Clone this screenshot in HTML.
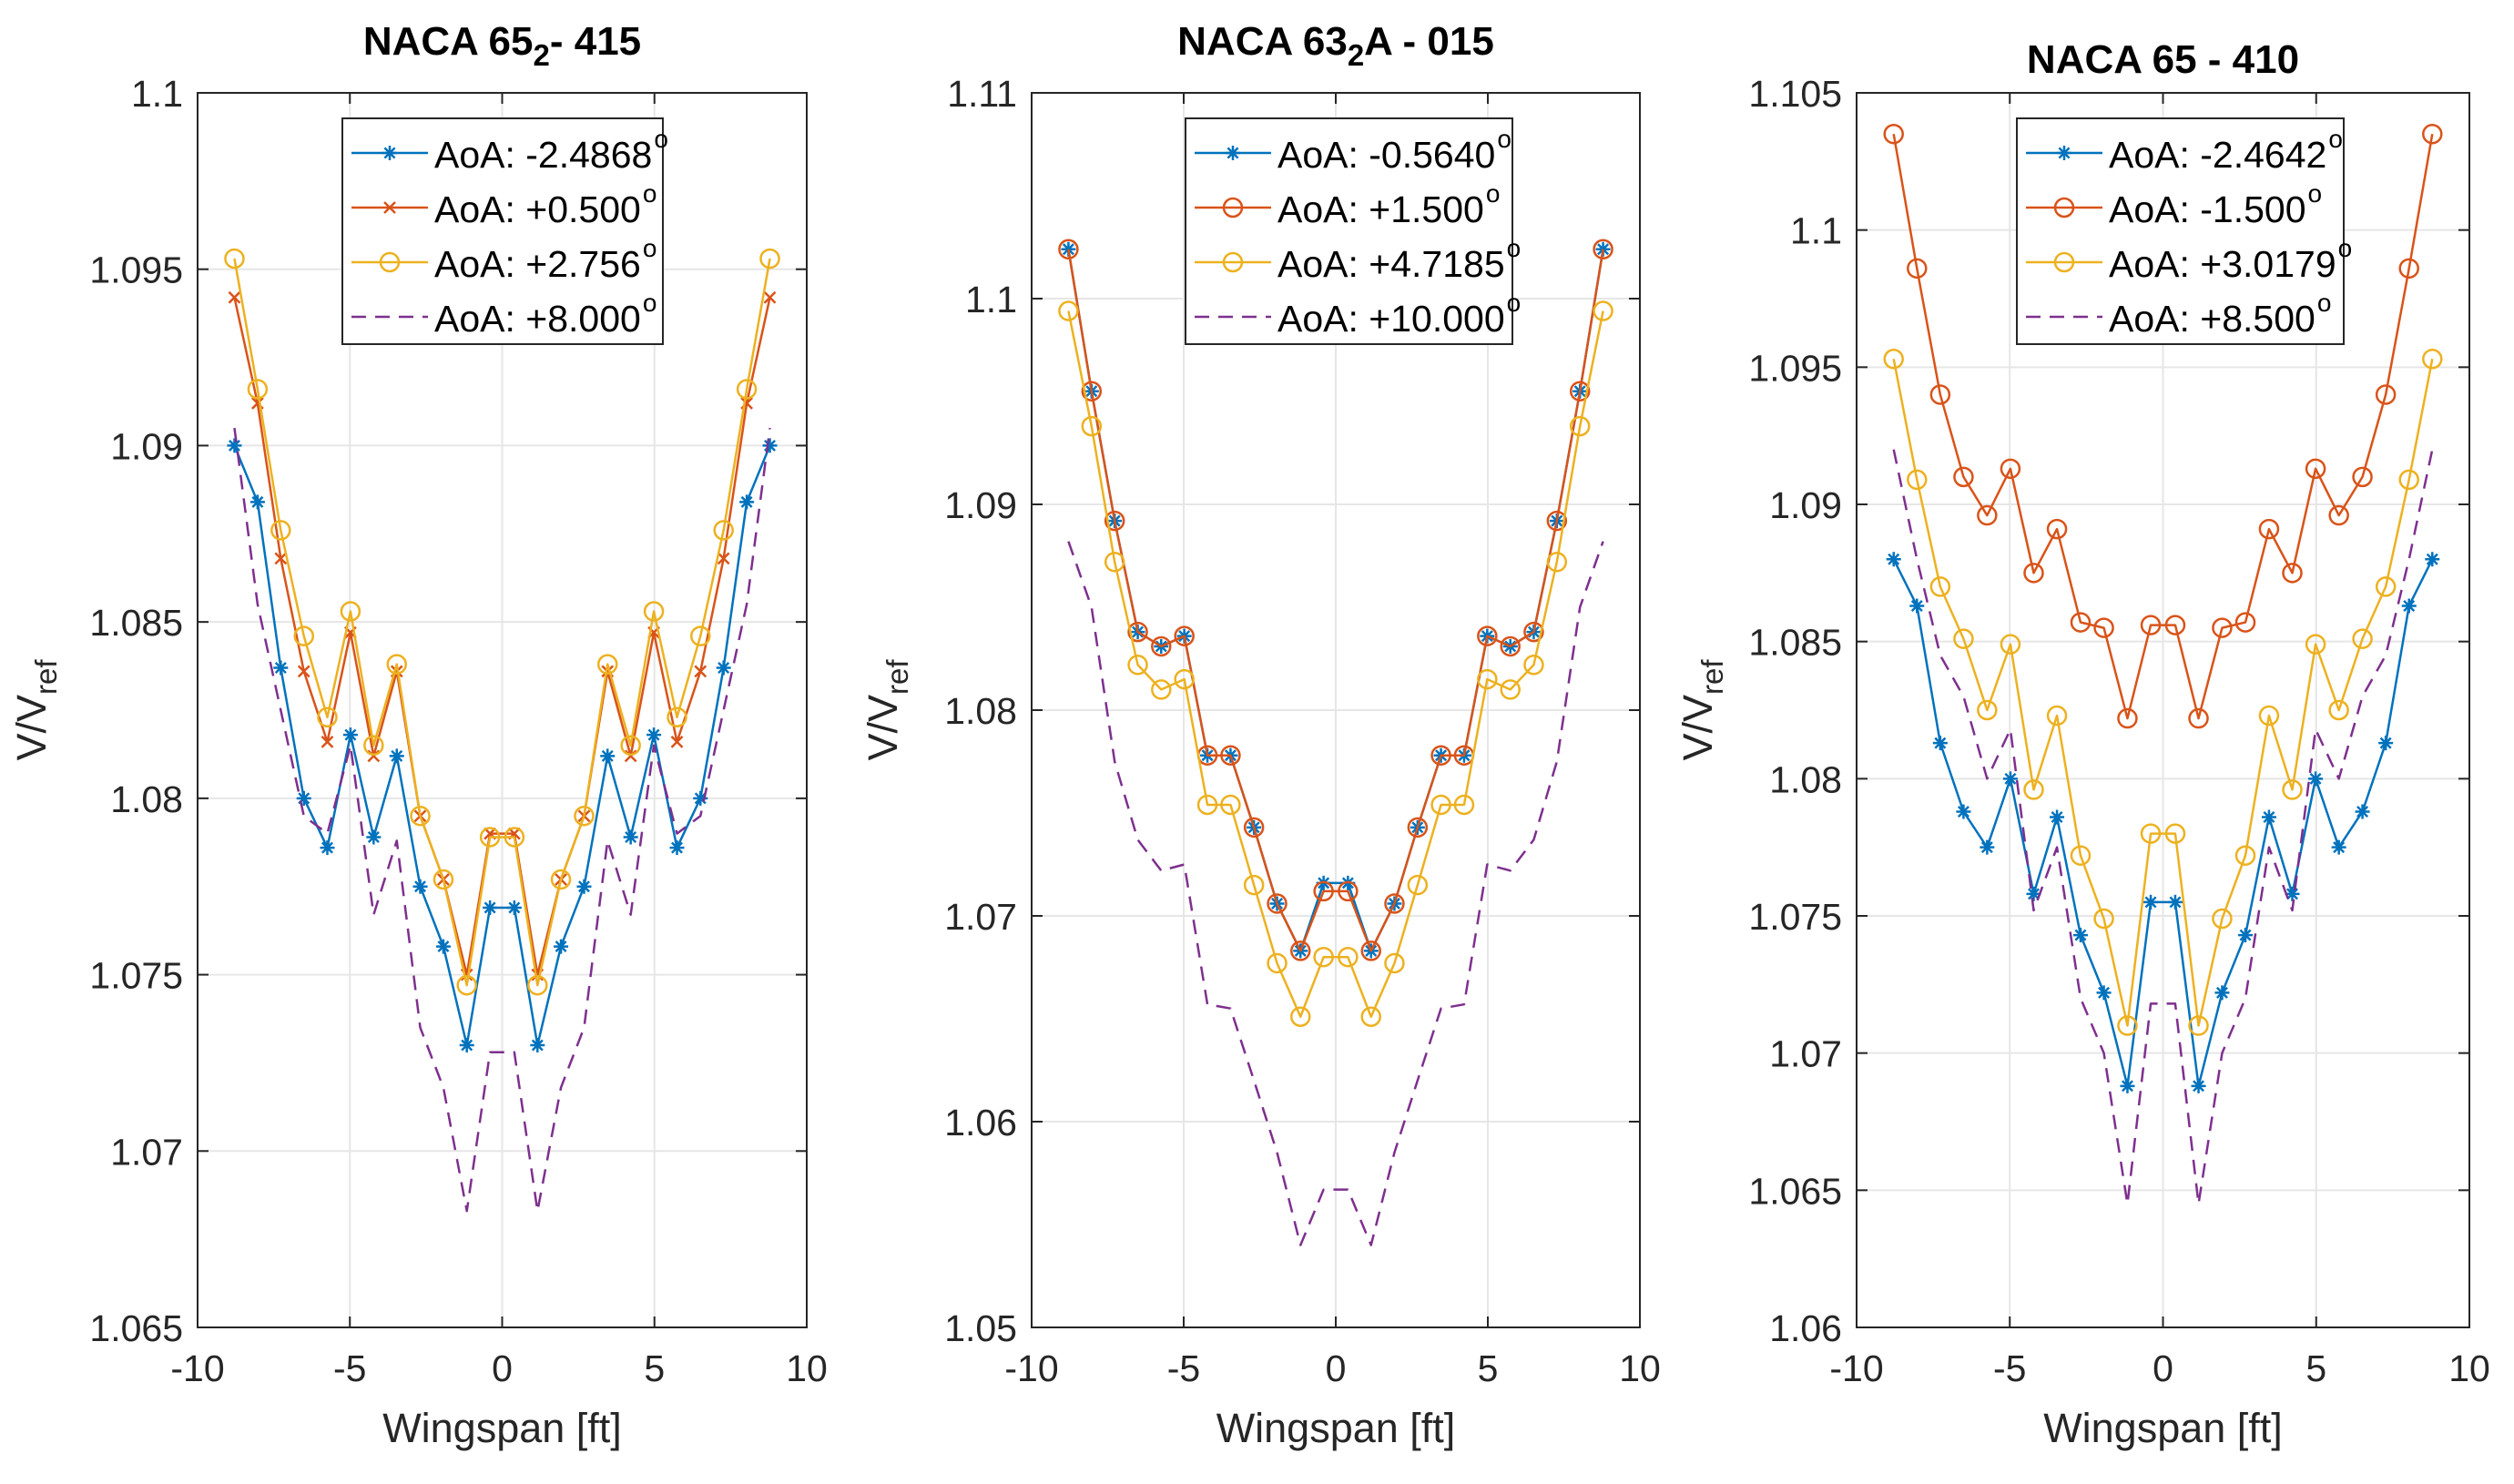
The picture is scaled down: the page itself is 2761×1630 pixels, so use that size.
<!DOCTYPE html>
<html><head><meta charset="utf-8">
<style>
html,body{margin:0;padding:0;background:#fff;}
svg{display:block;font-family:"Liberation Sans",Arial,sans-serif;}
</style></head>
<body>
<svg id="fig" width="2761" height="1630" viewBox="0 0 2761 1630" xmlns="http://www.w3.org/2000/svg"></svg>
<script>
// Shared x categories (wingspan positions, ft)
const xs = [-8.79,-8.03,-7.27,-6.51,-5.74,-4.98,-4.22,-3.46,-2.69,-1.93,-1.16,-0.4,0.4,1.16,1.93,2.69,3.46,4.22,4.98,5.74,6.51,7.27,8.03,8.79];

// Panel 1: NACA 65_2-415 (left half, mirrored)
const p1Blue   = [1.0900,1.0884,1.0837,1.0800,1.0786,1.0818,1.0789,1.0812,1.0775,1.0758,1.0730,1.0769];
const p1Red    = [1.0942,1.0912,1.0868,1.0836,1.0816,1.0847,1.0812,1.0836,1.0795,1.0777,1.0750,1.0790];
const p1Yellow = [1.0953,1.0916,1.0876,1.0846,1.0823,1.0853,1.0815,1.0838,1.0795,1.0777,1.0747,1.0789];
const p1Purple = [1.0905,1.0855,1.0825,1.0795,1.0790,1.0815,1.0767,1.0788,1.0735,1.0718,1.0683,1.0728];
const p1Ticks  = ["1.065","1.07","1.075","1.08","1.085","1.09","1.095","1.1"];
const p1Legend = ["AoA: -2.4868","AoA: +0.500","AoA: +2.756","AoA: +8.000"];

// Panel 2: NACA 63_2A-015
const p2Blue   = [1.1024,1.0955,1.0892,1.0838,1.0831,1.0836,1.0778,1.0778,1.0743,1.0706,1.0683,1.0716];
const p2Red    = [1.1024,1.0955,1.0892,1.0838,1.0831,1.0836,1.0778,1.0778,1.0743,1.0706,1.0683,1.0712];
const p2Yellow = [1.0994,1.0938,1.0872,1.0822,1.0810,1.0815,1.0754,1.0754,1.0715,1.0677,1.0651,1.0680];
const p2Purple = [1.0882,1.0850,1.0775,1.0737,1.0722,1.0725,1.0657,1.0655,1.0620,1.0585,1.0540,1.0567];
const p2Ticks  = ["1.05","1.06","1.07","1.08","1.09","1.1","1.11"];
const p2Legend = ["AoA: -0.5640","AoA: +1.500","AoA: +4.7185","AoA: +10.000"];

// Panel 3: NACA 65-410
const p3Blue   = [1.0880,1.0863,1.0813,1.0788,1.0775,1.0800,1.0758,1.0786,1.0743,1.0722,1.0688,1.0755];
const p3Red    = [1.1035,1.0986,1.0940,1.0910,1.0896,1.0913,1.0875,1.0891,1.0857,1.0855,1.0822,1.0856];
const p3Yellow = [1.0953,1.0909,1.0870,1.0851,1.0825,1.0849,1.0796,1.0823,1.0772,1.0749,1.0710,1.0780];
const p3Purple = [1.0920,1.0880,1.0845,1.0830,1.0800,1.0818,1.0752,1.0775,1.0720,1.0700,1.0645,1.0718];
const p3Ticks  = ["1.06","1.065","1.07","1.075","1.08","1.085","1.09","1.095","1.1","1.105"];
const p3Legend = ["AoA: -2.4642","AoA: -1.500","AoA: +3.0179","AoA: +8.500"];

const xTicks = [-10,-5,0,5,10];
const NS = "http://www.w3.org/2000/svg";
const svg = document.getElementById('fig');
const COLORS = ["#0072BD","#D95319","#EDB120","#7E2F8E"];

function mk(tag, attrs, parent){
  const e = document.createElementNS(NS, tag);
  for (const k in attrs) e.setAttribute(k, attrs[k]);
  (parent||svg).appendChild(e);
  return e;
}
function mirror(a){ return a.concat(a.slice().reverse()); }

function marker(g, type, cx, cy, color){
  if (type === 'star'){
    const r = 8;
    const p = mk('path',{d:`M${cx-r},${cy}H${cx+r}M${cx},${cy-r}V${cy+r}M${cx-r*0.7},${cy-r*0.7}L${cx+r*0.7},${cy+r*0.7}M${cx-r*0.7},${cy+r*0.7}L${cx+r*0.7},${cy-r*0.7}`,stroke:color,'stroke-width':2.5,fill:'none'},g);
    
    
  } else if (type === 'x'){
    const r = 6;
    const p = mk('path',{d:`M${cx-r},${cy-r}L${cx+r},${cy+r}M${cx-r},${cy+r}L${cx+r},${cy-r}`,stroke:color,'stroke-width':2.5,fill:'none'},g);
    
    
  } else if (type === 'o'){
    const c = mk('circle',{cx:cx,cy:cy,r:10,stroke:color,'stroke-width':2.5,fill:'none'},g);
    
    
  }
}

function panel(o){
  const g = mk('g',{});
  
  
  const L=o.left, R=o.right, T=102, B=1458;
  const sx = v => L + (v+10)/20*(R-L);
  const sy = v => B - (v-o.ymin)/(o.ymax-o.ymin)*(B-T);
  xTicks.forEach(t=>{
    if (t>-10 && t<10){
      const l = mk('line',{x1:sx(t),x2:sx(t),y1:T,y2:B,stroke:'#e6e6e6','stroke-width':2},g);
      
      
    }
  });
  o.ticks.forEach(t=>{
    const y = sy(parseFloat(t));
    if (Math.abs(y-T)>1 && Math.abs(y-B)>1){
      const l = mk('line',{x1:L,x2:R,y1:y,y2:y,stroke:'#e6e6e6','stroke-width':2},g);
      
      
    }
  });
  const types = o.types;
  o.series.forEach((s,i)=>{
    const vals = mirror(s);
    const pts = vals.map((v,k)=>sx(xs[k])+','+sy(v)).join(' ');
    const pl = mk('polyline',{points:pts,fill:'none',stroke:COLORS[i],'stroke-width':2.5,'stroke-linejoin':'round'},g);
    if (i===3) pl.setAttribute('stroke-dasharray','16 10');
    
    
    if (types[i]) vals.forEach((v,k)=>marker(g,types[i],sx(xs[k]),sy(v),COLORS[i]));
  });
  const bx = mk('rect',{x:L,y:T,width:R-L,height:B-T,fill:'none',stroke:'#262626','stroke-width':2},g);
  
  
  xTicks.forEach(t=>{
    const x = sx(t);
    mk('line',{x1:x,x2:x,y1:B,y2:B-12,stroke:'#262626','stroke-width':2},g);
    mk('line',{x1:x,x2:x,y1:T,y2:T+12,stroke:'#262626','stroke-width':2},g);
    const tx = mk('text',{x:x,y:1517,'font-size':41,'text-anchor':'middle',fill:'#262626'},g);
    tx.textContent = String(t);
    
    
  });
  o.ticks.forEach(t=>{
    const y = sy(parseFloat(t));
    mk('line',{x1:L,x2:L+12,y1:y,y2:y,stroke:'#262626','stroke-width':2},g);
    mk('line',{x1:R,x2:R-12,y1:y,y2:y,stroke:'#262626','stroke-width':2},g);
    const tx = mk('text',{x:L-16,y:y+15,'font-size':41,'text-anchor':'end',fill:'#262626'},g);
    tx.textContent = t;
    
    
  });
  const xl = mk('text',{x:(L+R)/2,y:1584,'font-size':45,'text-anchor':'middle',fill:'#262626'},g);
  xl.textContent = 'Wingspan [ft]';
  
  
  const yl = mk('text',{x:0,y:0,'font-size':45,'text-anchor':'middle',fill:'#262626',transform:`translate(${o.ylabX},780) rotate(-90)`},g);
  yl.innerHTML = 'V/V<tspan font-size="33" dy="12">ref</tspan>';
  
  
  const ti = mk('text',{x:(L+R)/2,y:o.titleY,'font-size':44,'font-weight':'bold','text-anchor':'middle',fill:'#000'},g);
  ti.innerHTML = o.title;
  
  
  const lg = mk('g',{},g);
  
  
  const lx=o.legX, ly=130, lw=o.legW, lh=248;
  mk('rect',{x:lx,y:ly,width:lw,height:lh,fill:'#fff',stroke:'#262626','stroke-width':2},lg);
  o.legend.forEach((lab,i)=>{
    const yy = ly+38+i*60;
    const ent = mk('g',{},lg);
    
    
    const ln = mk('line',{x1:lx+10,x2:lx+94,y1:yy,y2:yy,stroke:COLORS[i],'stroke-width':2.5},ent);
    if (i===3) ln.setAttribute('stroke-dasharray','16 10');
    if (types[i]) marker(ent,types[i],lx+52,yy,COLORS[i]);
    const t = mk('text',{x:lx+101,y:yy+16,'font-size':41,fill:'#000'},ent);
    t.innerHTML = lab + '<tspan font-size="28" dx="2" dy="-22">o</tspan>';
  });
}

panel({name:'panel-naca-65-2-415',left:217,right:886,ymin:1.065,ymax:1.1,ticks:p1Ticks,types:['star','x','o',null],
  series:[p1Blue,p1Red,p1Yellow,p1Purple],legend:p1Legend,legX:376,legW:352,ylabX:50,titleY:60,
  title:'NACA 65<tspan font-size="33" dy="12">2</tspan><tspan dy="-12">- 415</tspan>'});
panel({name:'panel-naca-63-2a-015',left:1133,right:1801,ymin:1.05,ymax:1.11,ticks:p2Ticks,types:['star','o','o',null],
  series:[p2Blue,p2Red,p2Yellow,p2Purple],legend:p2Legend,legX:1302,legW:359,ylabX:985,titleY:60,
  title:'NACA 63<tspan font-size="33" dy="12">2</tspan><tspan dy="-12">A - 015</tspan>'});
panel({name:'panel-naca-65-410',left:2039,right:2712,ymin:1.06,ymax:1.105,ticks:p3Ticks,types:['star','o','o',null],
  series:[p3Blue,p3Red,p3Yellow,p3Purple],legend:p3Legend,legX:2215,legW:359,ylabX:1880,titleY:80,
  title:'NACA 65 - 410'});
</script>
</body></html>
